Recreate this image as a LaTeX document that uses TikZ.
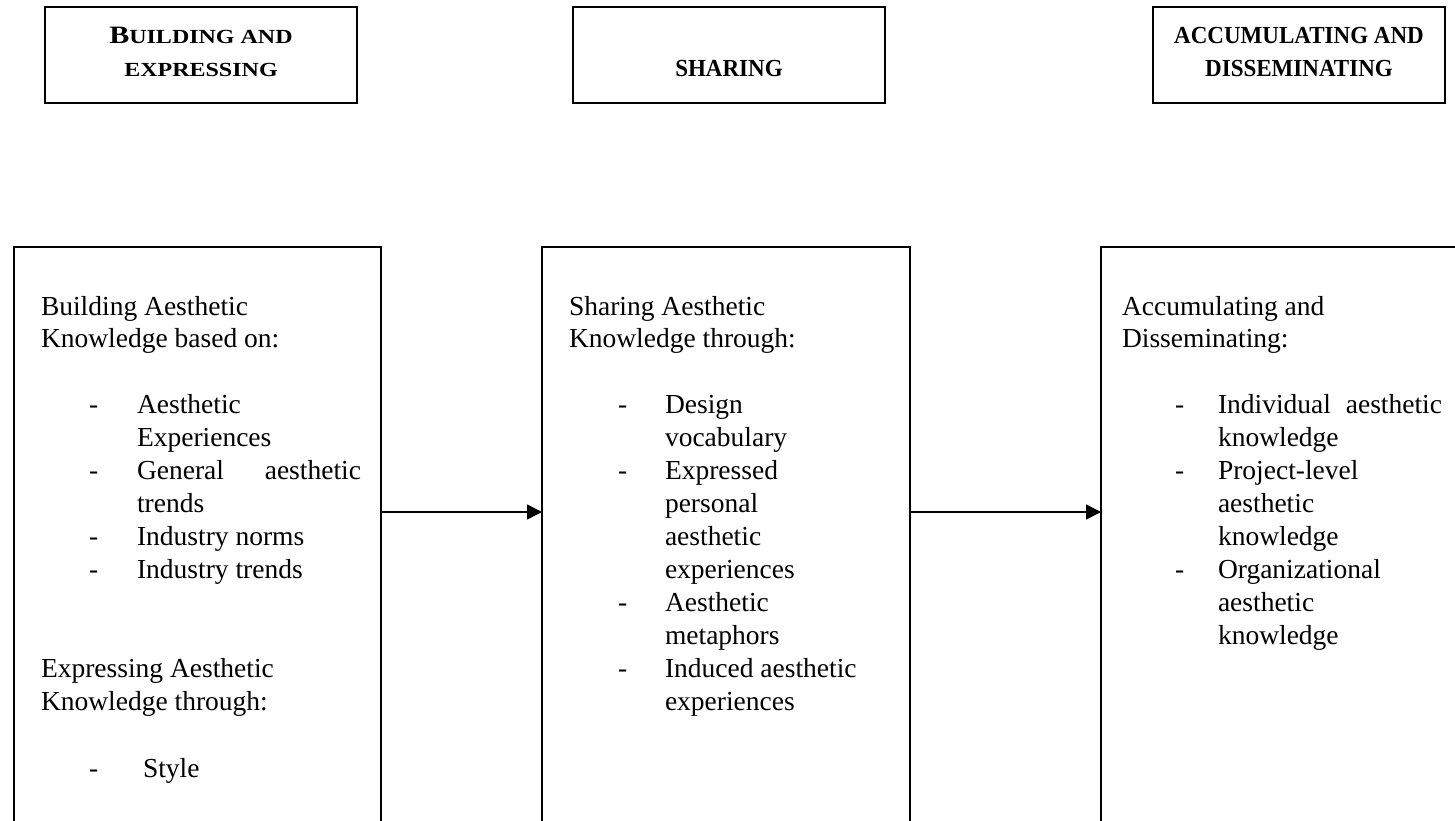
\documentclass[tikz,border=0pt]{standalone}
\usepackage{fontspec}
\usepackage{graphicx}
\setmainfont{Liberation Serif}
\usetikzlibrary{arrows.meta}

% heading lettering: large capital plus bold small capitals
\newcommand{\scline}[2]{\scalebox{1.2}[1]{\bfseries{\fontsize{25}{25}\selectfont #1}{\fontsize{20}{20}\selectfont #2}}}
\newcommand{\capline}[1]{\scalebox{0.94}[1]{\bfseries\fontsize{24.5}{24.5}\selectfont #1}}
\newcommand{\spread}[1]{\makebox[224pt][s]{#1}}

\begin{document}
\begin{tikzpicture}[x=1pt,y=-1pt,
  frame/.style={draw=black,line width=1.5pt,inner sep=0pt,outer sep=0pt},
  body/.style={anchor=base west,inner sep=0pt,outer sep=0pt,font=\fontsize{27.5}{33}\selectfont},
  headtxt/.style={anchor=base,inner sep=0pt,outer sep=0pt},
  flow/.style={-{Triangle[length=15pt,width=15pt]},line width=1.5pt}]

\useasboundingbox (0,0) rectangle (1455,820);
\clip (0,0) rectangle (1455,820);

% stage headings
\node[frame,minimum width=312pt,minimum height=96pt] (hb1) at (201,55) {};
\node[frame,minimum width=312pt,minimum height=96pt] (hb2) at (729,55) {};
\node[frame,minimum width=292pt,minimum height=96pt] (hb3) at (1299,55) {};

\node[headtxt] (h1a) at (201,43) {\scline{B}{UILDING AND}};
\node[headtxt] (h1b) at (201,76) {\scline{}{EXPRESSING}};
\node[headtxt] (h2a) at (729,76) {\capline{SHARING}};
\node[headtxt] (h3a) at (1299,43) {\capline{ACCUMULATING AND}};
\node[headtxt] (h3b) at (1299,76) {\capline{DISSEMINATING}};

% stage content boxes (running past the lower edge)
\node[frame,minimum width=367pt,minimum height=593pt] (B1) at (197.5,543.5) {};
\node[frame,minimum width=368pt,minimum height=593pt] (B2) at (726,543.5) {};
\node[frame,minimum width=369pt,minimum height=593pt] (B3) at (1285.5,543.5) {};

% flow between stages
\coordinate (ay) at (0,512);
\draw[flow] (B1.east |- ay) -- (B2.west |- ay);
\draw[flow] (B2.east |- ay) -- (B3.west |- ay);

% building and expressing
\foreach \t/\yy [count=\i] in {Building Aesthetic/315, Knowledge based on:/347,
    Expressing Aesthetic/677, Knowledge through:/710}
  \node[body] (la\i) at (41,\yy) {\t};
\foreach \yy [count=\i] in {413,479,545,578,777}
  \node[body] (da\i) at (89,\yy) {-};
\foreach \t/\yy [count=\i] in {Aesthetic/413, Experiences/446,
    {\spread{General aesthetic}}/479, trends/512, Industry norms/545,
    Industry trends/578}
  \node[body] (ia\i) at (137,\yy) {\t};
\node[body] (ia7) at (143,777) {Style};

% sharing
\foreach \t/\yy [count=\i] in {Sharing Aesthetic/315, Knowledge through:/347}
  \node[body] (lb\i) at (569,\yy) {\t};
\foreach \yy [count=\i] in {413,479,611,677}
  \node[body] (db\i) at (618,\yy) {-};
\foreach \t/\yy [count=\i] in {Design/413, vocabulary/446, Expressed/479,
    personal/512, aesthetic/545, experiences/578, Aesthetic/611,
    metaphors/644, Induced aesthetic/677, experiences/710}
  \node[body] (ib\i) at (665,\yy) {\t};

% accumulating and disseminating
\foreach \t/\yy [count=\i] in {Accumulating and/315, Disseminating:/347}
  \node[body] (lc\i) at (1122,\yy) {\t};
\foreach \yy [count=\i] in {413,479,578}
  \node[body] (dc\i) at (1175,\yy) {-};
\foreach \t/\yy [count=\i] in {{\spread{Individual aesthetic}}/413,
    knowledge/446, Project-level/479, aesthetic/512, knowledge/545,
    Organizational/578, aesthetic/611, knowledge/644}
  \node[body] (ic\i) at (1218,\yy) {\t};

\end{tikzpicture}
\end{document}
